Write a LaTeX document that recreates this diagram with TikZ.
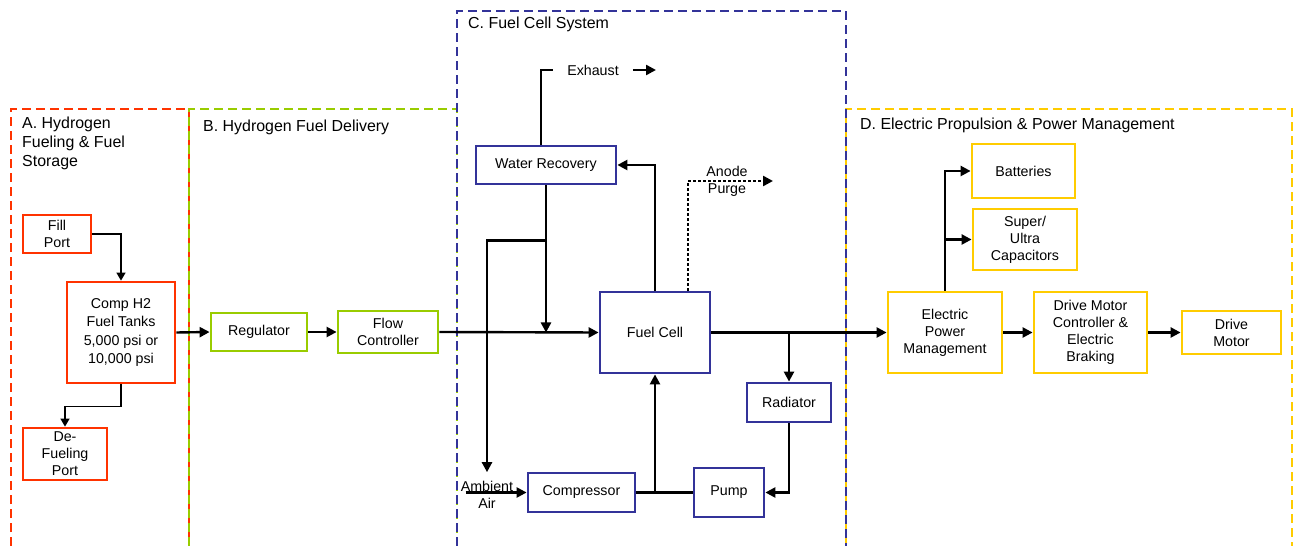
\documentclass[tikz,border=0pt]{standalone}
\usepackage{fontspec}
\setmainfont{Liberation Sans}
\usepackage{xcolor}
\usetikzlibrary{arrows.meta}
\definecolor{ZoneRed}{HTML}{FF3300}
\definecolor{ZoneGreen}{HTML}{99CC00}
\definecolor{ZoneBlue}{HTML}{333399}
\definecolor{ZoneYellow}{HTML}{FFCC00}

\begin{document}
\begin{tikzpicture}[
 x=1bp,y=-1bp,
 box/.style={draw,line width=2.8bp,align=center,inner sep=0pt,font=\fontsize{14.3}{17}\selectfont},
 rbox/.style={box,draw=ZoneRed},
 gbox/.style={box,draw=ZoneGreen},
 bbox/.style={box,draw=ZoneBlue},
 ybox/.style={box,draw=ZoneYellow},
 zone/.style={line width=2.2bp,dash pattern=on 9bp off 5bp},
 title/.style={font=\fontsize{16}{19}\selectfont,inner sep=0pt,align=left},
 arrow/.style={-{Triangle[length=10bp,width=10bp]},line width=2.4bp},
 thin arrow/.style={-{Triangle[length=8bp,width=9bp]},line width=1.6bp},
 lbl/.style={font=\fontsize{14.3}{17}\selectfont,align=center,inner sep=0pt}
]
\useasboundingbox (0,0) rectangle (1294,546);

% zones
\draw[zone,ZoneRed] (11,546) -- (11,109) -- (189,109) -- (189,546);
\draw[zone,ZoneGreen] (189,546) -- (189,109) -- (457,109) -- (457,546);
\draw[zone,ZoneYellow] (846,546) -- (846,109) -- (1292,109) -- (1292,546);
\draw[zone,ZoneBlue] (457,546) -- (457,11) -- (846,11) -- (846,546);
\node[title,anchor=north west] at (22,117) {A. Hydrogen\\Fueling \& Fuel\\Storage};
\node[title,anchor=west] at (203,127) {B. Hydrogen Fuel Delivery};
\node[title,anchor=west] at (468,24) {C. Fuel Cell System};
\node[title,anchor=west] at (860,125) {D. Electric Propulsion \& Power Management};

% A. fueling and storage
\node[rbox,minimum width=68bp,minimum height=38bp] (fill) at (57,234) {Fill\\Port};
\node[rbox,minimum width=108bp,minimum height=101bp,font=\fontsize{14.3}{18.5}\selectfont] (tanks) at (121,332.5) {Comp H2\\Fuel Tanks\\5,000 psi or\\10,000 psi};
\node[rbox,minimum width=84bp,minimum height=52bp] (defuel) at (65,454) {De-\\Fueling\\Port};
\draw[thin arrow] (fill.east) -| (tanks.north);
\draw[thin arrow] (tanks.south) -- ++(0,22) -| (defuel.north);

% B. fuel delivery
\node[gbox,minimum width=96bp,minimum height=38bp] (reg) at (259,332) {Regulator};
\node[gbox,minimum width=100bp,minimum height=42bp] (flow) at (388,332) {Flow\\Controller};
\draw[arrow] (tanks.east) -- (reg.west);
\draw[arrow] (reg.east) -- (flow.west);

% C. fuel cell system
\node[bbox,minimum width=140bp,minimum height=38bp] (wrec) at (546,165) {Water Recovery};
\node[bbox,minimum width=110bp,minimum height=81bp] (fc) at (655,332.5) {Fuel Cell};
\node[bbox,minimum width=107bp,minimum height=39bp] (comp) at (581.5,492.5) {Compressor};
\node[bbox,minimum width=70bp,minimum height=49bp] (pump) at (729,492.5) {Pump};
\node[bbox,minimum width=84bp,minimum height=39bp] (rad) at (789,402.5) {Radiator};
\node[lbl,inner xsep=14bp] (exh) at (593,70) {Exhaust};
\coordinate (exhout) at (656,70);
\node[lbl] (purgelbl) at (727,181.5) {Anode\\Purge};
\coordinate (purge) at (773,181);
\node[lbl] (amb) at (487,495) {Ambient\\Air};

\draw[line width=2.4bp] ([xshift=-5bp]wrec.north) |- (exh.west);
\draw[arrow] (exh.east) -- (exhout);
\draw[arrow] (fc.north) |- (wrec.east);
\draw[arrow,dash pattern=on 2.5bp off 2.5bp] ([xshift=33bp]fc.north) |- (purge);
\draw[arrow] (flow.east) -- (fc.west);
\draw[arrow] (wrec.south) -- (wrec.south |- fc.west);
\draw[arrow] (wrec.south) ++(0,55) -| ([yshift=9bp]amb.north);
\draw[arrow] ([xshift=5bp]amb.west |- comp.west) -- (comp.west);
\draw[line width=2.4bp] (comp.east) -- (pump.west);
\draw[arrow] (comp.east -| fc.south) -- (fc.south);
\draw[arrow] (fc.east -| rad.north) -- (rad.north);
\draw[arrow] (rad.south) |- (pump.east);

% D. electric propulsion
\node[ybox,minimum width=103bp,minimum height=54bp] (batt) at (1023.5,171) {Batteries};
\node[ybox,minimum width=104bp,minimum height=61bp] (caps) at (1025,239.5) {Super/\\Ultra\\Capacitors};
\node[ybox,minimum width=114bp,minimum height=81bp] (epm) at (945,332.5) {Electric\\Power\\Management};
\node[ybox,minimum width=113bp,minimum height=81bp] (dmc) at (1090.5,332.5) {Drive Motor\\Controller \&\\Electric\\Braking};
\node[ybox,minimum width=99bp,minimum height=43bp] (motor) at (1231.5,332.5) {Drive\\Motor};
\draw[arrow] (fc.east) -- (epm.west);
\draw[arrow] (epm.north) |- (batt.west);
\draw[arrow] (epm.north |- caps.west) -- (caps.west);
\draw[arrow] (epm.east) -- (dmc.west);
\draw[arrow] (dmc.east) -- (motor.west);
\end{tikzpicture}
\end{document}
